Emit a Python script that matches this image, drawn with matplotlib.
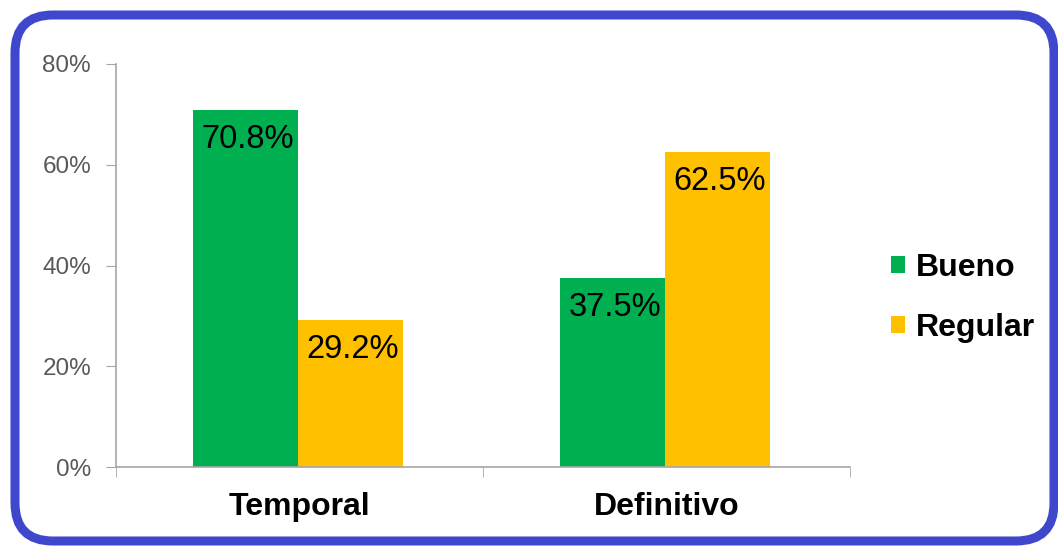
import matplotlib
matplotlib.use("Agg")
import matplotlib.pyplot as plt
import numpy as np
from matplotlib.patches import FancyBboxPatch
from matplotlib.transforms import IdentityTransform

categories = ["Temporal", "Definitivo"]
series_names = ["Bueno", "Regular"]
bueno = [70.8, 37.5]
regular = [29.2, 62.5]
yticks = [0, 20, 40, 60, 80]
colors = ["#00B050", "#FFC000"]

plt.rcParams['font.family'] = ['Liberation Sans', 'DejaVu Sans']

fig = plt.figure(figsize=(10.58, 5.47), dpi=100)
ax = fig.add_axes([116/1058, 1-467/547, 734/1058, (467-64)/547])

x = np.arange(len(categories))
w = 0.286
b1 = ax.bar(x - w/2 - 0.005, bueno, w, color=colors[0], label=series_names[0])
b2 = ax.bar(x + w/2 - 0.005, regular, w, color=colors[1], label=series_names[1])

for bars, vals in [(b1, bueno), (b2, regular)]:
    for rect, v in zip(bars, vals):
        ax.annotate(f"{v:.1f}%", (rect.get_x() + rect.get_width()/2, rect.get_height()),
                    xytext=(2, -21), textcoords="offset points", ha="center", va="center",
                    fontsize=23.5, color="black")

ax.set_xlim(-0.5, 1.5)
ax.set_ylim(0, 80)
ax.set_yticks(yticks)
ax.set_yticklabels([f"{t}%" for t in yticks], fontsize=17.5, color="#595959")
ax.set_xticks(x)
ax.set_xticklabels(categories, fontsize=23, fontweight="bold", color="black")
ax.tick_params(axis='x', length=0, pad=18)
ax.set_xticks([-0.5, 0.5, 1.5], minor=True)
ax.tick_params(axis='x', which='minor', length=7, color="#A6A6A6", direction='out')
ax.tick_params(axis='y', length=7, color="#A6A6A6", direction='out', pad=11)

for s in ["top", "right"]:
    ax.spines[s].set_visible(False)
for s in ["left", "bottom"]:
    ax.spines[s].set_color("#A6A6A6")
    ax.spines[s].set_linewidth(1.2)

leg = fig.legend(handles=[b1, b2], labels=series_names, loc="center left",
                 bbox_to_anchor=(862/1058, 1-298/547), frameon=False,
                 prop={'size': 23, 'weight': 'bold'}, handlelength=0.45, handleheight=0.45,
                 handletextpad=0.35, labelspacing=0.95)

border = FancyBboxPatch((15, 6), 1054-15, 532-6,
                        boxstyle="round,pad=0,rounding_size=38",
                        transform=IdentityTransform(), facecolor="none",
                        edgecolor="#3F48CC", linewidth=6.5)
fig.add_artist(border)

fig.savefig("out.png", dpi=100)
